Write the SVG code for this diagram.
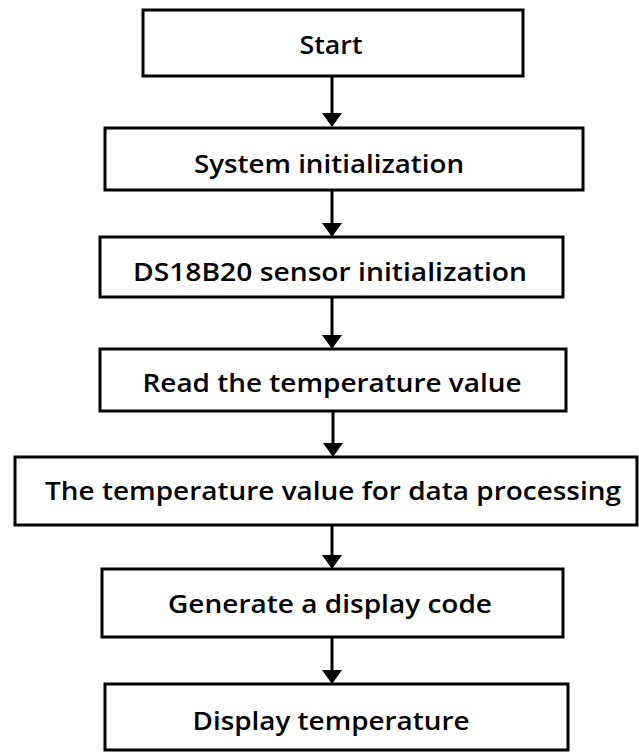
<svg xmlns="http://www.w3.org/2000/svg" width="639" height="754" viewBox="0 0 639 754">
<style>
.box{fill:#fff;stroke:#000;stroke-width:3}
.t{font-family:"Open Sans","Liberation Sans",sans-serif;font-weight:600;font-size:25px;fill:#000;text-anchor:middle}
.c{stroke:#000;stroke-width:3;fill:none}
.ah{fill:#000}
</style>
<rect width="639" height="754" fill="#fff"/>
<g id="n1"><rect class="box" x="143" y="10" width="380" height="66"/><text class="t" x="331" y="54" textLength="63" lengthAdjust="spacingAndGlyphs">Start</text></g>
<g id="n2"><rect class="box" x="105" y="128" width="478" height="62"/><text class="t" x="329" y="173" textLength="270" lengthAdjust="spacingAndGlyphs">System initialization</text></g>
<g id="n3"><rect class="box" x="100" y="237" width="463" height="60"/><text class="t" x="330" y="281" textLength="394" lengthAdjust="spacingAndGlyphs">DS18B20 sensor initialization</text></g>
<g id="n4"><rect class="box" x="100" y="349" width="466" height="62"/><text class="t" x="332" y="392" textLength="379" lengthAdjust="spacingAndGlyphs">Read the temperature value</text></g>
<g id="n5"><rect class="box" x="15" y="457" width="622" height="68"/><text class="t" x="333" y="500" textLength="576" lengthAdjust="spacingAndGlyphs">The temperature value for data processing</text></g>
<g id="n6"><rect class="box" x="102" y="569" width="461" height="68"/><text class="t" x="330" y="613" textLength="324" lengthAdjust="spacingAndGlyphs">Generate a display code</text></g>
<g id="n7"><rect class="box" x="105" y="684" width="463" height="66"/><text class="t" x="331" y="730" textLength="277" lengthAdjust="spacingAndGlyphs">Display temperature</text></g>
<g id="connectors">
<line class="c" x1="332" y1="77" x2="332" y2="114"/><path class="ah" d="M322,113 L342,113 L332,127 Z"/>
<line class="c" x1="332" y1="191" x2="332" y2="224"/><path class="ah" d="M322,223 L342,223 L332,237 Z"/>
<line class="c" x1="332" y1="298" x2="332" y2="336"/><path class="ah" d="M322,335 L342,335 L332,349 Z"/>
<line class="c" x1="333" y1="412" x2="333" y2="444"/><path class="ah" d="M323,443 L343,443 L333,457 Z"/>
<line class="c" x1="332" y1="526" x2="332" y2="556"/><path class="ah" d="M322,555 L342,555 L332,569 Z"/>
<line class="c" x1="332" y1="638" x2="332" y2="671"/><path class="ah" d="M322,670 L342,670 L332,684 Z"/>
</g>
</svg>
